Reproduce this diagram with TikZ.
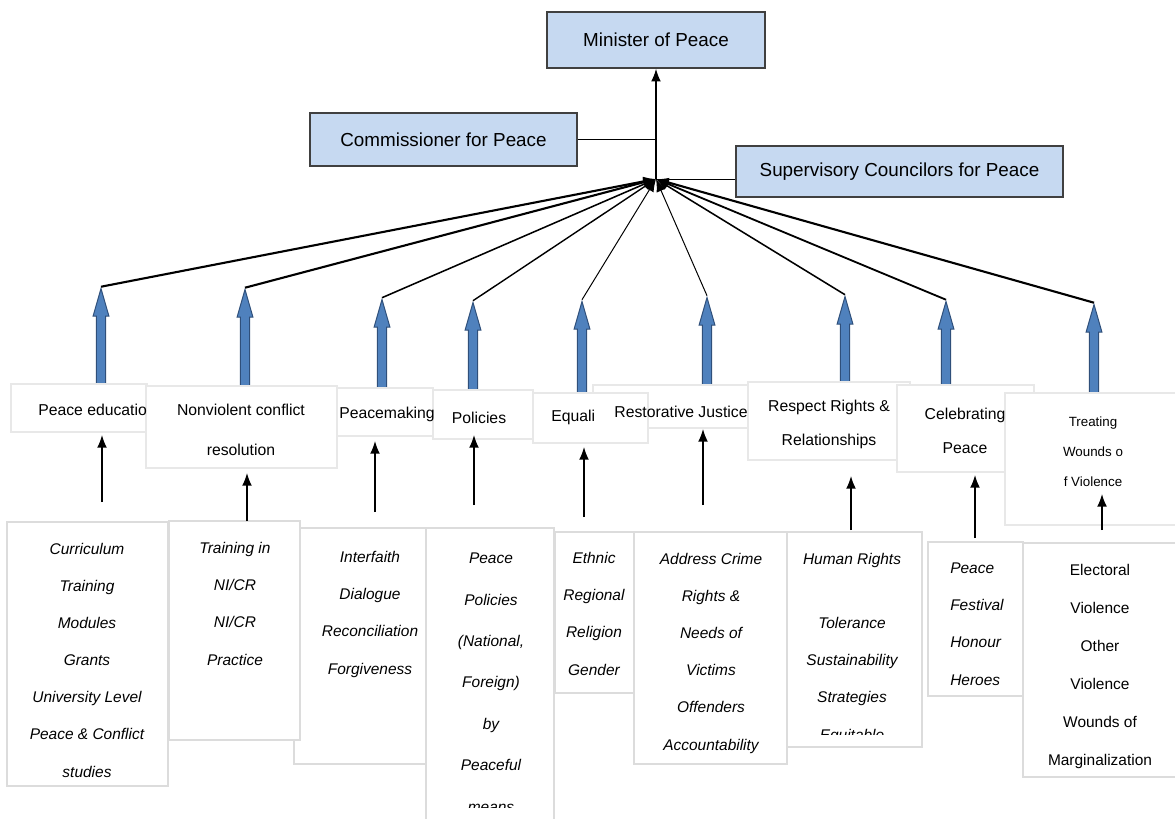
\documentclass[tikz,border=0pt]{standalone}
\usepackage{fontspec}
\setmainfont{Liberation Sans}
\usetikzlibrary{arrows.meta, shapes.arrows, shadows}

\definecolor{officeblue}{HTML}{C6D9F1}
\definecolor{arrowfill}{HTML}{4F81BD}
\definecolor{arrowedge}{HTML}{2F4F7A}
\definecolor{frameline}{HTML}{DCDCDC}
\definecolor{headline}{HTML}{E8E8E8}

\tikzset{
  office/.style={draw=black!75, line width=1.1pt, fill=officeblue,
    font=\fontsize{13.4}{15}\selectfont,
    drop shadow={shadow xshift=0.8pt, shadow yshift=-0.8pt, fill=black!35}},
  uparrow/.style={single arrow, draw=arrowedge, fill=arrowfill, line width=0.7pt,
    rotate=90, anchor=tail, inner xsep=0pt, inner ysep=2.9pt, minimum width=0pt,
    single arrow head extend=2.4pt, single arrow tip angle=32},
  framebox/.style={draw=frameline, fill=white, line width=0.8pt},
  headbox/.style={framebox, draw=headline},
  heading/.style={align=center, inner sep=0pt, anchor=base,
    font=\fontsize{11.2}{28.3}\selectfont},
  detail/.style={align=center, inner sep=0pt, anchor=base,
    font=\itshape\fontsize{11}{26.4}\selectfont},
}

\begin{document}
\begin{tikzpicture}[x=0.025cm, y=-0.025cm, >={Latex[length=9pt, width=7pt]}]
\useasboundingbox (0,0) rectangle (1175,819);

% ministry level
\node[office, minimum width=5.45cm, minimum height=1.4cm] (minister) at (656,40) {Minister of Peace};
\node[office, minimum width=6.675cm, minimum height=1.325cm] (comm) at (443.5,139.5) {Commissioner for Peace};
\node[office, minimum width=8.175cm, minimum height=1.275cm] (sup) at (899.5,171.5) {Supervisory Councilors for Peace};
\coordinate (hub) at (656,179);

\draw[->, line width=1.1pt] (hub) -- (minister.south);
\draw[line width=0.6pt] (comm.east) -- (comm.east -| hub);
\draw[line width=0.6pt] (hub) -- (hub -| sup.west);

% blue arrows and the fan into the hub
\foreach \i/\x/\t/\w in {1/101/289/1.5, 2/245/290/1.5, 3/382/300/1.1, 4/473/303/1.0, 5/582/302/0.7,
                          6/707/298/0.7, 7/845/297/1.1, 8/946/302/1.3, 9/1094/305/1.5} {
    \node[uparrow, minimum height={(395-\t)*0.025cm}] (ba\i) at (\x,395) {};
    \draw[->, line width=\w pt] (ba\i.tip) -- (hub);
};

% heading boxes
\foreach \xa/\ya/\xb/\yb in {11/384/147/432, 146/386/337/468, 337/388/433/436, 433/390/533/439,
                              748/382/910/460, 593/385/748/428, 533/393/648/443,
                              897/385/1034/472, 1005/393/1180/525} {
    \draw[headbox] (\xa,\ya) rectangle (\xb,\yb);
};

% (base anchor = last line of a node)
\begin{scope}
  \clip (0,380) rectangle (146,440);
  \node[heading, anchor=base west] (h1) at (38,415) {Peace education};
\end{scope}
\node[heading] (h2) at (241,455) {Nonviolent conflict\\resolution};
\node[heading] (h3) at (387,418) {Peacemaking};
\node[heading] (h4) at (479,423) {Policies};
\begin{scope}
  \clip (540,390) rectangle (593,440);
  \node[heading, anchor=base west] (h5) at (551,421) {Equality};
\end{scope}
\node[heading] (h6) at (681,417) {Restorative Justice};
\node[heading, font=\fontsize{11.2}{24}\selectfont] (h7) at (829,445) {Respect Rights \&\\Relationships};
\node[heading, font=\fontsize{11.2}{24}\selectfont] (h8) at (965,453) {Celebrating\\Peace};
\node[heading, font=\fontsize{9.5}{21.3}\selectfont] (h9) at (1093,486) {Treating\\Wounds o\\f Violence};

% detail boxes
\foreach \xa/\ya/\xb/\yb in {7/522/168/786, 294/528/426/764, 169/521/300/740, 426/528/554/830,
                              634/532/787/764, 555/532/634/693, 787/532/922/747,
                              928/542/1023/696, 1023/543/1180/777} {
    \draw[framebox] (\xa,\ya) rectangle (\xb,\yb);
};

\node[detail] (d1) at (87,777) {Curriculum\\Training\\Modules\\Grants\\University Level\\Peace \& Conflict\\studies};
\node[detail] (d2) at (235,665) {Training in\\NI/CR\\NI/CR\\Practice};
\node[detail] (d3) at (370,674) {Interfaith\\Dialogue\\Reconciliation\\Forgiveness};
\begin{scope}
  \clip (426,530) rectangle (554,807);
  \node[detail, font=\itshape\fontsize{11}{29.4}\selectfont] (d4) at (491,812)
    {Peace\\Policies\\(National,\\Foreign)\\by\\Peaceful\\means};
\end{scope}
\node[detail] (d5) at (594,675) {Ethnic\\Regional\\Religion\\Gender};
\node[detail] (d6) at (711,750) {Address Crime\\Rights \&\\Needs of\\Victims\\Offenders\\Accountability};
\begin{scope}
  \clip (787,532) rectangle (922,734);
  \node[detail] (d7) at (852,740) {Human Rights\\[19pt]Tolerance\\Sustainability\\Strategies\\Equitable};
\end{scope}
\node[detail, align=left, anchor=base west] (d8) at (950,685) {Peace\\Festival\\Honour\\Heroes};
\begin{scope}
  \clip (1023,543) rectangle (1180,768);
  \node[detail, font=\fontsize{11}{26.9}\selectfont] (d9) at (1100,765)
    {Electoral\\Violence\\Other\\Violence\\Wounds of\\Marginalization};
\end{scope}

% black arrows from details up to headings
\foreach \i/\x/\b/\t in {1/102/502/435, 2/247/521/473, 3/375/512/441, 4/474/505/435, 5/584/517/447,
                         6/703/505/429, 7/851/530/476, 8/975/538/475, 9/1102/530/494} {
    \coordinate (lo\i) at (\x,\b);
    \coordinate (hi\i) at (\x,\t);
    \draw[->, line width=1pt] (lo\i) -- (hi\i);
};

\end{tikzpicture}
\end{document}
